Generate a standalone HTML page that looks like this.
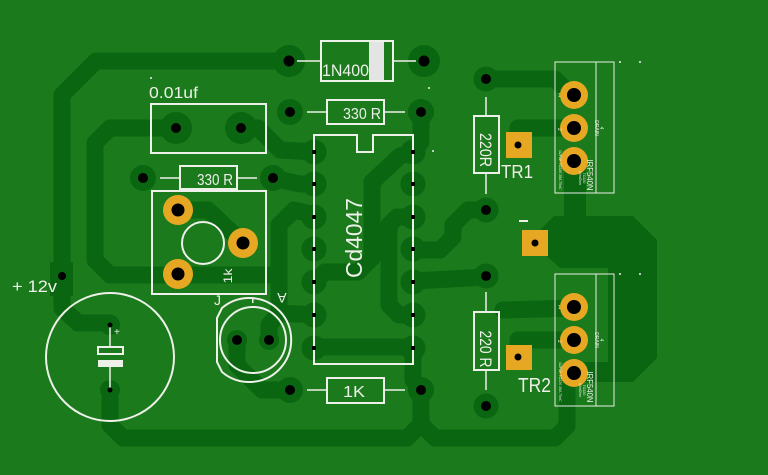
<!DOCTYPE html>
<html><head><meta charset="utf-8"><style>
html,body{margin:0;padding:0;background:#1b7a1b;}
svg{display:block;}
text{font-family:"Liberation Sans",sans-serif;fill:#eef0ea;}
</style></head><body>
<svg width="768" height="475" viewBox="0 0 768 475" xmlns="http://www.w3.org/2000/svg">
<rect width="768" height="475" fill="#1b7a1b"/>
<!-- traces -->
<g fill="none" stroke="#0a6610" stroke-width="17" stroke-linejoin="round" stroke-linecap="round">
<polyline points="289,61 96,61 62,95 62,308 78,323 110,323"/>
<polyline points="110,390 110,425 123,438 407,438 421,424 421,390"/>
<polyline points="421,424 435,438 555,438 567,426 567,382 574,373"/>
<polyline points="413,348 413,380 421,390"/>
<polyline points="315,347 413,347"/>
<polyline points="176,128 110,128 95,143 95,260 110,275 279,275"/>
<polyline points="241,128 258,128 280,150 315,152"/>
<polyline points="273,178 300,184 315,184"/>
<polyline points="178,210 208,210 243,243"/>
<polyline points="315,215 294,210 279,225 279,313 315,315"/>
<polyline points="279,313 269,325 269,340"/>
<polyline points="237,340 237,365 262,390 290,390"/>
<polyline points="421,112 421,142 413,152"/>
<polyline points="413,152 400,156 372,182 372,258 358,272 325,272 315,282"/>
<polyline points="413,217 397,217 389,225 389,305 399,315 413,315"/>
<polyline points="413,250 440,250 453,237 453,225 468,210 486,210"/>
<polyline points="413,281 486,277"/>
<polyline points="486,79 555,79 574,98"/>
<polyline points="518,140 518,128 574,128"/>
<polyline points="503,310 574,308"/>
<polyline points="518,350 518,340 574,340"/>
<polyline points="575,161 575,218" stroke-width="22"/>
</g>
<polygon fill="#0a6610" points="540,230 554,216 633,216 657,240 657,358 633,382 568,382 568,362 608,362 608,268 560,268 540,250"/>
<rect x="50" y="262" width="23" height="34" fill="#0a6610"/>
<!-- pad rings -->
<g fill="#0a6610">
<circle cx="289" cy="61" r="16"/><circle cx="424" cy="61" r="16"/>
<circle cx="290" cy="112" r="13"/><circle cx="421" cy="112" r="13"/>
<circle cx="176" cy="128" r="16"/><circle cx="241" cy="128" r="16"/>
<circle cx="143" cy="178" r="13"/><circle cx="273" cy="178" r="13"/>
<circle cx="290" cy="390" r="13"/><circle cx="421" cy="390" r="13"/>
<circle cx="486" cy="79" r="12.5"/><circle cx="486" cy="210" r="12.5"/>
<circle cx="486" cy="276" r="12.5"/><circle cx="486" cy="406" r="12.5"/>
<circle cx="237" cy="340" r="10"/><circle cx="269" cy="340" r="10"/>
<circle cx="110" cy="325" r="10"/><circle cx="110" cy="390" r="10"/>
<circle cx="314" cy="152" r="12.5"/><circle cx="314" cy="184" r="12.5"/><circle cx="314" cy="217" r="12.5"/><circle cx="314" cy="249" r="12.5"/><circle cx="314" cy="282" r="12.5"/><circle cx="314" cy="315" r="12.5"/><circle cx="314" cy="348" r="12.5"/>
<circle cx="413" cy="152" r="12.5"/><circle cx="413" cy="184" r="12.5"/><circle cx="413" cy="217" r="12.5"/><circle cx="413" cy="249" r="12.5"/><circle cx="413" cy="282" r="12.5"/><circle cx="413" cy="315" r="12.5"/><circle cx="413" cy="348" r="12.5"/>
</g>
<!-- silkscreen -->
<g fill="none" stroke="#eef0ea" stroke-width="2">
<rect x="321" y="41" width="72" height="40"/>
<rect x="327" y="100" width="57" height="24"/>
<rect x="151" y="104" width="115" height="49"/>
<rect x="180" y="166" width="57" height="23"/>
<rect x="152" y="191" width="114" height="103"/>
<circle cx="203" cy="243" r="21"/>
<path d="M314,135 H357 V152 H373 V135 H413 V364 H314 Z"/>
<rect x="327" y="378" width="57" height="25"/>
<path d="M217,318 L222,308 A42,42 0 1,1 222,372 L217,362 Z"/>
<circle cx="253" cy="340" r="33"/>
<circle cx="110" cy="357" r="64"/>
<rect x="98" y="347" width="25" height="7"/>
<rect x="474" y="116" width="25" height="57"/>
<rect x="474" y="312" width="25" height="58"/>
</g>
<g stroke="#eef0ea" stroke-width="1.5">
<line x1="297" y1="61" x2="321" y2="61"/><line x1="393" y1="61" x2="416" y2="61"/>
<line x1="307" y1="112" x2="327" y2="112"/><line x1="384" y1="112" x2="405" y2="112"/>
<line x1="160" y1="178" x2="180" y2="178"/><line x1="237" y1="178" x2="257" y2="178"/>
<line x1="307" y1="390" x2="327" y2="390"/><line x1="384" y1="390" x2="405" y2="390"/>
<line x1="486" y1="97" x2="486" y2="116"/><line x1="486" y1="173" x2="486" y2="194"/>
<line x1="486" y1="292" x2="486" y2="312"/><line x1="486" y1="370" x2="486" y2="390"/>
<line x1="110" y1="325" x2="110" y2="347"/><line x1="110" y1="367" x2="110" y2="390"/>
</g>
<rect x="98" y="360" width="25" height="7" fill="#eef0ea"/>
<g fill="none" stroke="#e8ece4" stroke-width="1">
<rect x="555" y="62" width="59" height="131"/><line x1="596" y1="62" x2="596" y2="193"/>
<rect x="555" y="274" width="59" height="132"/><line x1="596" y1="274" x2="596" y2="406"/>
</g>
<!-- IC pin markers -->
<g fill="#000">
<rect x="312" y="150" width="4" height="4"/><rect x="312" y="182" width="4" height="4"/><rect x="312" y="215" width="4" height="4"/><rect x="312" y="247" width="4" height="4"/><rect x="312" y="280" width="4" height="4"/><rect x="312" y="313" width="4" height="4"/><rect x="312" y="346" width="4" height="4"/>
<rect x="411" y="150" width="4" height="4"/><rect x="411" y="182" width="4" height="4"/><rect x="411" y="215" width="4" height="4"/><rect x="411" y="247" width="4" height="4"/><rect x="411" y="280" width="4" height="4"/><rect x="411" y="313" width="4" height="4"/><rect x="411" y="346" width="4" height="4"/>
</g>
<!-- yellow pads -->
<g fill="#e6a823">
<circle cx="178" cy="210" r="15"/><circle cx="243" cy="243" r="15"/><circle cx="178" cy="274" r="15"/>
<circle cx="574" cy="95" r="14"/><circle cx="574" cy="128" r="14"/><circle cx="574" cy="161" r="14"/>
<circle cx="574" cy="307" r="14"/><circle cx="574" cy="340" r="14"/><circle cx="574" cy="373" r="14"/>
<rect x="506" y="132" width="26" height="26"/>
<rect x="522" y="230" width="26" height="26"/>
<rect x="506" y="345" width="26" height="25"/>
</g>
<!-- holes -->
<g fill="#000">
<circle cx="289" cy="61" r="5.5"/><circle cx="424" cy="61" r="5.5"/>
<circle cx="290" cy="112" r="5"/><circle cx="421" cy="112" r="5"/>
<circle cx="176" cy="128" r="5"/><circle cx="241" cy="128" r="5"/>
<circle cx="143" cy="178" r="5"/><circle cx="273" cy="178" r="5"/>
<circle cx="290" cy="390" r="5"/><circle cx="421" cy="390" r="5"/>
<circle cx="486" cy="79" r="5"/><circle cx="486" cy="210" r="5"/><circle cx="486" cy="276" r="5"/><circle cx="486" cy="406" r="5"/>
<circle cx="237" cy="340" r="5"/><circle cx="269" cy="340" r="5"/>
<circle cx="110" cy="325" r="2.5"/><circle cx="110" cy="390" r="2.5"/>
<circle cx="62" cy="276" r="4"/>
<circle cx="178" cy="210" r="6.5"/><circle cx="243" cy="243" r="6.5"/><circle cx="178" cy="274" r="6.5"/>
<circle cx="574" cy="95" r="7"/><circle cx="574" cy="128" r="7"/><circle cx="574" cy="161" r="7"/>
<circle cx="574" cy="307" r="7"/><circle cx="574" cy="340" r="7"/><circle cx="574" cy="373" r="7"/>
<circle cx="518" cy="145" r="3.5"/><circle cx="535" cy="243" r="3.5"/><circle cx="518" cy="357" r="3.5"/>
</g>
<!-- dots -->
<g fill="#eef0ea">
<circle cx="151" cy="78" r="1"/><circle cx="429" cy="88" r="1"/><circle cx="433" cy="151" r="1"/>
<circle cx="620" cy="62" r="1"/><circle cx="640" cy="62" r="1"/><circle cx="620" cy="274" r="1"/><circle cx="640" cy="274" r="1"/>
<rect x="519" y="220" width="9" height="2"/>
<rect x="252" y="299" width="1.5" height="4"/>
</g>
<!-- text -->
<text x="149" y="98" font-size="16" textLength="49" lengthAdjust="spacingAndGlyphs">0.01uf</text>
<text x="322" y="76" font-size="17" textLength="47" lengthAdjust="spacingAndGlyphs">1N400</text>
<rect x="369" y="42" width="15" height="38" fill="#e4e4e4"/>
<text x="343" y="119" font-size="16" textLength="38" lengthAdjust="spacingAndGlyphs">330 R</text>
<text x="197" y="185" font-size="16" textLength="36" lengthAdjust="spacingAndGlyphs">330 R</text>
<text x="343" y="397" font-size="16" textLength="22" lengthAdjust="spacingAndGlyphs">1K</text>
<text x="12" y="292" font-size="17" textLength="45" lengthAdjust="spacingAndGlyphs">+ 12v</text>
<text x="501" y="178" font-size="18" textLength="32" lengthAdjust="spacingAndGlyphs">TR1</text>
<text x="518" y="392" font-size="20" textLength="33" lengthAdjust="spacingAndGlyphs">TR2</text>
<text transform="translate(362,238) rotate(-90)" text-anchor="middle" font-size="23" textLength="80" lengthAdjust="spacingAndGlyphs">Cd4047</text>
<text transform="translate(480,150) rotate(90)" text-anchor="middle" font-size="17" textLength="34" lengthAdjust="spacingAndGlyphs">220R</text>
<text transform="translate(480,349) rotate(90)" text-anchor="middle" font-size="17" textLength="37" lengthAdjust="spacingAndGlyphs">220 R</text>
<text transform="translate(232,276) rotate(-90)" text-anchor="middle" font-size="12" textLength="15" lengthAdjust="spacingAndGlyphs">1k</text>
<text transform="translate(282,293) rotate(180)" text-anchor="middle" font-size="14">A</text>
<text x="214" y="305" font-size="14">J</text>
<text x="114" y="335" font-size="10">+</text>
<!-- mosfet tiny text -->
<g font-size="8">
<text transform="translate(587,175) rotate(90)" text-anchor="middle" textLength="31" lengthAdjust="spacingAndGlyphs">IRF540N</text>
<text transform="translate(587,387) rotate(90)" text-anchor="middle" textLength="31" lengthAdjust="spacingAndGlyphs">IRF540N</text>
</g>
<g font-size="5">
<text transform="translate(600,128) rotate(90)" text-anchor="middle">4</text>
<text transform="translate(595,128) rotate(90)" text-anchor="middle">DRAIN</text>
<text transform="translate(600,340) rotate(90)" text-anchor="middle">4</text>
<text transform="translate(595,340) rotate(90)" text-anchor="middle">DRAIN</text>
<text x="558" y="97">1</text><text transform="translate(558,128) rotate(90)">2</text>
<text x="558" y="309">1</text><text transform="translate(558,340) rotate(90)">2</text>
</g>
<g font-size="3.5">
<text transform="translate(559,170) rotate(90)" text-anchor="middle">D2PAK TO220 28A 75nC</text>
<text transform="translate(579,178) rotate(90)" text-anchor="middle">44mOhm</text>
<text transform="translate(583,178) rotate(90)" text-anchor="middle">TO220</text>
<text transform="translate(559,382) rotate(90)" text-anchor="middle">D2PAK TO220 28A 75nC</text>
<text transform="translate(579,390) rotate(90)" text-anchor="middle">44mOhm</text>
<text transform="translate(583,390) rotate(90)" text-anchor="middle">TO220</text>
</g>
</svg>
</body></html>
